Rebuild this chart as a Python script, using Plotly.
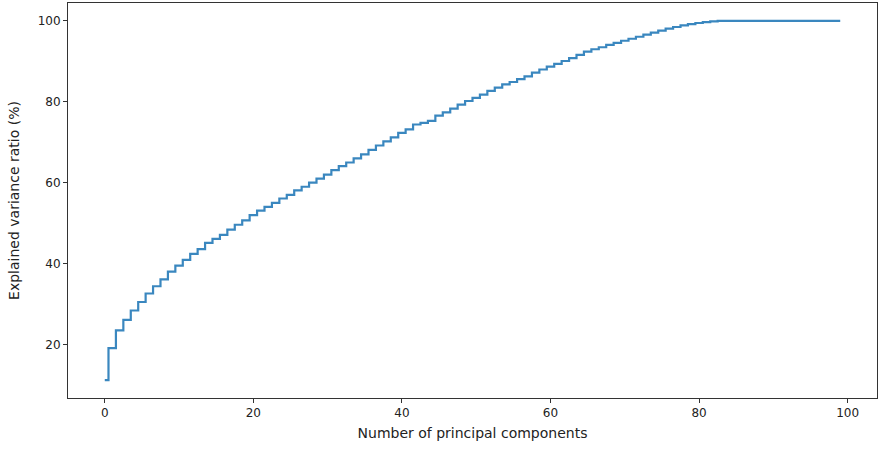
import plotly.graph_objects as go

components = list(range(100))
cumulative_variance = [
    11.2, 19.1, 23.5, 26.1, 28.4, 30.5, 32.6, 34.4, 36.1, 38.0,
    39.5, 40.9, 42.4, 43.6, 45.1, 46.1, 47.1, 48.4, 49.6, 50.7,
    52.0, 53.1, 54.0, 55.0, 56.1, 57.0, 58.1, 59.0, 60.0, 61.0,
    62.0, 63.1, 64.1, 65.0, 66.0, 67.0, 68.1, 69.2, 70.2, 71.2,
    72.3, 73.2, 74.4, 74.8, 75.3, 76.6, 77.4, 78.3, 79.3, 80.2,
    81.0, 81.8, 82.7, 83.5, 84.3, 84.9, 85.6, 86.3, 87.2, 88.0,
    88.7, 89.4, 90.1, 90.8, 91.6, 92.4, 93.0, 93.5, 94.1, 94.6,
    95.1, 95.6, 96.1, 96.6, 97.1, 97.6, 98.1, 98.5, 98.9, 99.2,
    99.5, 99.7, 99.9, 100.0, 100.0, 100.0, 100.0, 100.0, 100.0, 100.0,
    100.0, 100.0, 100.0, 100.0, 100.0, 100.0, 100.0, 100.0, 100.0, 100.0,
]
x_ticks = [0, 20, 40, 60, 80, 100]
y_ticks = [20, 40, 60, 80, 100]

def padded(lo, hi, frac=0.05):
    span = hi - lo
    return [lo - span * frac, hi + span * frac]

fig = go.Figure()
fig.add_trace(go.Scatter(
    x=components, y=cumulative_variance, mode="lines",
    line=dict(shape="hvh", color="#3a87bf", width=2.2),
    showlegend=False,
))

axis_common = dict(
    showline=True, linecolor="#333333", linewidth=1, mirror=True,
    ticks="outside", ticklen=4, tickcolor="#333333", tickwidth=1,
    showgrid=False, zeroline=False,
    tickfont=dict(family="DejaVu Sans", size=12, color="#222222"),
)

fig.update_layout(
    width=888, height=456,
    margin=dict(l=68, r=11, t=3, b=58),
    paper_bgcolor="white", plot_bgcolor="white",
    font=dict(family="DejaVu Sans", color="#222222"),
    xaxis=dict(
        range=padded(min(components), max(components)),
        tickvals=x_ticks,
        title=dict(text="Number of principal components", font=dict(size=14), standoff=8),
        **axis_common,
    ),
    yaxis=dict(
        range=padded(min(cumulative_variance), max(cumulative_variance)),
        tickvals=y_ticks,
        title=dict(text="Explained variance ratio (%)", font=dict(size=14), standoff=14),
        **axis_common,
    ),
)

fig.write_html("out.html")
